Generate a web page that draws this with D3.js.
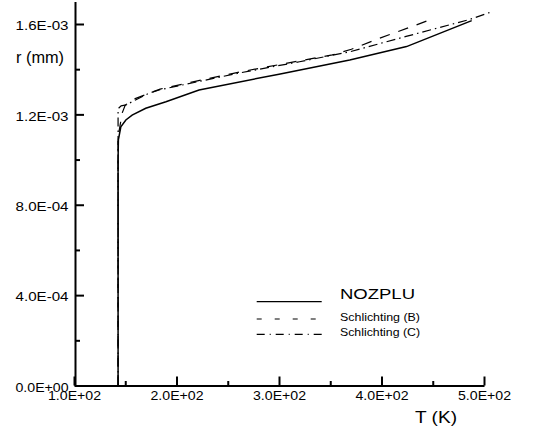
<!DOCTYPE html>
<html>
<head>
<meta charset="utf-8">
<script src="https://cdn.jsdelivr.net/npm/d3@7"></script>
<style>
  html, body { margin: 0; padding: 0; background: #fff; }
  svg { display: block; }
  text { font-family: "Liberation Sans", Arial, sans-serif; fill: #000; }
</style>
</head>
<body>
<svg id="chart" width="534" height="429"></svg>
<script>
// ---- data ----
const nozpluT = [143, 143, 143.3, 145.7, 150.6, 156.7, 170, 189.7, 222, 300, 369, 424.4, 488];
const nozpluR = [0, 1.0e-3, 1.087e-3, 1.145e-3, 1.175e-3, 1.197e-3, 1.227e-3, 1.256e-3, 1.308e-3, 1.378e-3, 1.441e-3, 1.5e-3, 1.615e-3];

const schlBT = [143, 143, 145, 147, 150, 158.7, 184, 215, 260, 320, 352, 370.6, 398, 416, 434, 444];
const schlBR = [0, 1.1e-3, 1.152e-3, 1.206e-3, 1.241e-3, 1.268e-3, 1.312e-3, 1.343e-3, 1.386e-3, 1.437e-3, 1.463e-3, 1.488e-3, 1.537e-3, 1.566e-3, 1.596e-3, 1.613e-3];

const schlCT = [143, 143, 146, 151, 160, 173, 183, 215, 260, 320, 369, 424, 486, 507.5];
const schlCR = [0, 1.225e-3, 1.238e-3, 1.242e-3, 1.264e-3, 1.293e-3, 1.308e-3, 1.339e-3, 1.382e-3, 1.433e-3, 1.477e-3, 1.545e-3, 1.62e-3, 1.654e-3];

const seriesNames = ["NOZPLU", "Schlichting (B)", "Schlichting (C)"];

const xTicks = [100, 200, 300, 400, 500];
const xTickLabels = ["1.0E+02", "2.0E+02", "3.0E+02", "4.0E+02", "5.0E+02"];
const xMinorTicks = [150, 250, 350, 450];
const yTicks = [0, 4e-4, 8e-4, 1.2e-3, 1.6e-3];
const yTickLabels = ["0.0E+00", "4.0E-04", "8.0E-04", "1.2E-03", "1.6E-03"];
const yMinorTicks = [2e-4, 6e-4, 1.0e-3, 1.4e-3];

const xTitle = "T (K)";
const yTitle = "r (mm)";

// ---- chart ----
const svg = d3.select("#chart");
const x = d3.scaleLinear().domain([100, 500]).range([74, 484]);
const y = d3.scaleLinear().domain([0, 1.7e-3]).range([385.5, 1.4]);

// data lines
const styles = [
  { dash: null, legendDash: null },
  { dash: "10.5,9", legendDash: "5,13" },
  { dash: "9,4,1.5,4", legendDash: "8,5,1,5" }
];
const seriesData = [
  nozpluT.map((t, i) => [t, nozpluR[i]]),
  schlBT.map((t, i) => [t, schlBR[i]]),
  schlCT.map((t, i) => [t, schlCR[i]])
];
const line = d3.line().x(d => x(d[0])).y(d => y(d[1]));

seriesData.forEach((data, i) => {
  svg.append("path")
    .datum(data)
    .attr("d", line)
    .attr("fill", "none")
    .attr("stroke", "#000")
    .attr("stroke-width", i === 0 ? 1.5 : 1.2)
    .attr("stroke-dasharray", styles[i].dash);
});

// axes
const xAxis = d3.axisBottom(x)
  .tickValues(xTicks)
  .tickFormat((d, i) => xTickLabels[i])
  .tickSizeInner(-9).tickSizeOuter(0).tickPadding(5);
const gx = svg.append("g").attr("transform", "translate(0,385.5)").call(xAxis);
const gxm = svg.append("g").attr("transform", "translate(0,385.5)")
  .call(d3.axisBottom(x).tickValues(xMinorTicks).tickFormat("").tickSizeInner(-4.5).tickSizeOuter(0));
gxm.select(".domain").remove();

const yAxis = d3.axisLeft(y)
  .tickValues(yTicks)
  .tickFormat((d, i) => yTickLabels[i])
  .tickSizeInner(-9).tickSizeOuter(0).tickPadding(6.5);
const gy = svg.append("g").attr("transform", "translate(75,0)").call(yAxis);
const gym = svg.append("g").attr("transform", "translate(75,0)")
  .call(d3.axisLeft(y).tickValues(yMinorTicks).tickFormat("").tickSizeInner(-5).tickSizeOuter(0));
gym.select(".domain").remove();

[gx, gxm, gy, gym].forEach(g => {
  g.selectAll("path, line").attr("stroke", "#000").attr("stroke-width", 2);
});
gx.selectAll("text")
  .attr("font-size", 13.5)
  .attr("font-family", "Liberation Sans, Arial, sans-serif")
  .attr("fill", "#000")
  .attr("textLength", 53).attr("lengthAdjust", "spacingAndGlyphs");
gy.selectAll("text")
  .attr("font-size", 13.5)
  .attr("dy", "0.42em")
  .attr("font-family", "Liberation Sans, Arial, sans-serif")
  .attr("fill", "#000")
  .attr("textLength", 53).attr("lengthAdjust", "spacingAndGlyphs");

// axis titles
svg.append("text").attr("x", 415).attr("y", 422.5)
  .attr("font-size", 17).attr("textLength", 42).attr("lengthAdjust", "spacingAndGlyphs")
  .text(xTitle);
svg.append("text").attr("x", 16).attr("y", 63)
  .attr("font-size", 16).attr("textLength", 48).attr("lengthAdjust", "spacingAndGlyphs")
  .text(yTitle);

// legend
const legendRows = [
  { ly: 301.7, ty: 299, size: 15.4, len: 75 },
  { ly: 319, ty: 320.7, size: 11.3, len: 80 },
  { ly: 334.3, ty: 336, size: 11.3, len: 80 }
];
legendRows.forEach((r, i) => {
  svg.append("line")
    .attr("x1", 256.7).attr("x2", 321.7)
    .attr("y1", r.ly).attr("y2", r.ly)
    .attr("stroke", "#000").attr("stroke-width", 1.2)
    .attr("stroke-dasharray", styles[i].legendDash);
  svg.append("text")
    .attr("x", 340).attr("y", r.ty)
    .attr("font-size", r.size)
    .attr("textLength", r.len).attr("lengthAdjust", "spacingAndGlyphs")
    .text(seriesNames[i]);
});
</script>
</body>
</html>
